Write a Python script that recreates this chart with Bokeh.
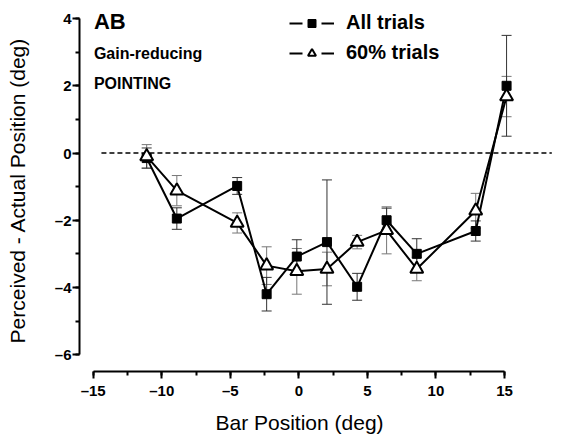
from bokeh.plotting import figure
from bokeh.models import (ColumnDataSource, Whisker, TeeHead, Label, Legend, LegendItem, Title,
                          SingleIntervalTicker, CustomJSTickFormatter, Range1d)
from bokeh.embed import file_html
from bokeh.resources import INLINE

# ---- data (x in axis units) ----
bar_x = [-11.1, -8.9, -4.5, -2.35, -0.15, 2.05, 4.25, 6.4, 8.6, 12.9, 15.15]
all_mean = [-0.15, -1.95, -0.98, -4.2, -3.08, -2.65, -3.98, -2.0, -3.0, -2.32, 2.0]
all_err = [0.3, 0.32, 0.25, 0.5, 0.5, 1.85, 0.4, 0.36, 0.45, 0.3, 1.5]
pct_mean = [-0.1, -1.12, -2.08, -3.35, -3.52, -3.45, -2.65, -2.3, -3.45, -1.72, 1.68]
pct_err = [0.35, 0.45, 0.3, 0.56, 0.68, 0.5, 0.2, 0.7, 0.35, 0.52, 0.6]
zero_line_x = [-14.4, 18.45]
zero_line_y = [0, 0]
x_title = "Bar Position (deg)"
y_title = "Perceived - Actual Position (deg)"
series_names = ["All trials", "60% trials"]
panel_texts = ["AB", "Gain-reducing", "POINTING"]

FONT = "Liberation Sans"

p = figure(frame_width=473, frame_height=362, min_border_left=79, min_border_right=4,
           min_border_top=9, min_border_bottom=30,
           x_range=Range1d(-16.0, 18.5), y_range=Range1d(-6.5, 4.27),
           output_backend="svg", toolbar_location=None)
p.outline_line_color = None
p.grid.visible = False
p.background_fill_color = "white"

src_all = ColumnDataSource(dict(x=bar_x, y=all_mean,
                                lo=[m - e for m, e in zip(all_mean, all_err)],
                                hi=[m + e for m, e in zip(all_mean, all_err)]))
src_pct = ColumnDataSource(dict(x=bar_x, y=pct_mean,
                                lo=[m - e for m, e in zip(pct_mean, pct_err)],
                                hi=[m + e for m, e in zip(pct_mean, pct_err)]))

# zero reference line
p.line(zero_line_x, zero_line_y, line_color="black", line_width=1.5, line_dash="5 3")

# error bars
for src, col in ((src_pct, "#777777"), (src_all, "#333333")):
    w = Whisker(base="x", lower="lo", upper="hi", source=src, dimension="height",
                line_color=col, line_width=1,
                upper_head=TeeHead(size=10, line_color=col, line_width=1),
                lower_head=TeeHead(size=10, line_color=col, line_width=1))
    p.add_layout(w)

p.line("x", "y", source=src_all, line_color="black", line_width=2)
p.line("x", "y", source=src_pct, line_color="black", line_width=2)
p.scatter("x", "y", source=src_all, marker="square", size=9, fill_color="black", line_color="black")
p.scatter("x", "y", source=src_pct, marker="triangle", size=13, fill_color="white",
          line_color="black", line_width=2)

# legend-only renderers (single NaN point so nothing is drawn in the plot)
nan = float("nan")
def dummy():
    return ColumnDataSource(dict(x=[nan], y=[nan]))
l1 = p.line("x", "y", source=dummy(), line_color="black", line_width=2, line_dash="13 19")
m1 = p.scatter("x", "y", source=dummy(), marker="square", size=7, fill_color="black", line_color="black")
l2 = p.line("x", "y", source=dummy(), line_color="black", line_width=2, line_dash="13 19")
m2 = p.scatter("x", "y", source=dummy(), marker="triangle", size=9, fill_color="white",
               line_color="black", line_width=2)
legend = Legend(items=[LegendItem(label=series_names[0], renderers=[l1, m1]),
                       LegendItem(label=series_names[1], renderers=[l2, m2])],
                location=(210, 307), orientation="vertical",
                glyph_width=45, glyph_height=20, label_height=20, spacing=7,
                label_standoff=12, padding=0, margin=0,
                border_line_color=None, background_fill_alpha=0,
                label_text_font=FONT, label_text_font_style="bold", label_text_font_size="20px",
                label_text_color="black")
p.add_layout(legend)

# text labels
for txt, yv, fs in zip(panel_texts, (3.9, 2.95, 2.08), ("22px", "16px", "16px")):
    p.add_layout(Label(x=-14.95, y=yv, text=txt, text_font=FONT, text_font_style="bold",
                       text_font_size=fs, text_baseline="middle", text_align="left",
                       text_color="black"))

fmt = CustomJSTickFormatter(code="return tick < 0 ? '\\u2013' + Math.abs(tick) : String(tick);")

xa = p.xaxis[0]
xa.ticker = SingleIntervalTicker(interval=5, num_minor_ticks=2)
xa.bounds = (-15, 15)
xa.formatter = fmt

ya = p.yaxis[0]
ya.ticker = SingleIntervalTicker(interval=2, num_minor_ticks=2)
ya.bounds = (-6, 4)
ya.formatter = fmt
ya.axis_label = y_title

for ax in (xa, ya):
    ax.axis_line_width = 2
    ax.axis_line_color = "black"
    ax.major_tick_line_width = 2
    ax.minor_tick_line_width = 2
    ax.major_tick_line_color = "black"
    ax.minor_tick_line_color = "black"
    ax.major_tick_out = 7
    ax.major_tick_in = 0
    ax.minor_tick_out = 4
    ax.minor_tick_in = 0
    ax.major_label_text_font = FONT
    ax.major_label_text_font_style = "bold"
    ax.major_label_text_font_size = "15px"
    ax.major_label_text_color = "black"
    ax.axis_label_text_font = FONT
    ax.axis_label_text_font_style = "normal"
    ax.axis_label_text_font_size = "21px"
    ax.axis_label_text_color = "black"

xa.major_label_standoff = 3
ya.major_label_standoff = 1
ya.axis_label_standoff = 23

# x-axis title, centred under the axis span (the frame is wider than the axis)
p.add_layout(Title(text=x_title, align="left", offset=136, standoff=14,
                   text_font=FONT, text_font_size="21px", text_font_style="normal",
                   text_color="black"), "below")

open("out.html", "w").write(file_html(p, INLINE))
